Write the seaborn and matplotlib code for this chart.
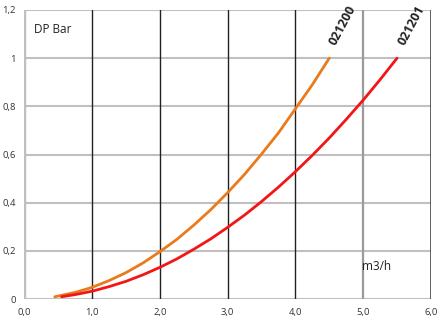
import matplotlib
matplotlib.use("Agg")
import matplotlib.pyplot as plt
import seaborn as sns
import pandas as pd

# Data
x_021200 = [0.45, 0.75, 1.0, 1.25, 1.5, 1.75, 2.0, 2.25, 2.5, 2.75, 3.0, 3.25, 3.5, 3.75, 4.0, 4.25, 4.5]
y_021200 = [0.010, 0.028, 0.049, 0.077, 0.110, 0.150, 0.197, 0.248, 0.307, 0.371, 0.442, 0.518, 0.602, 0.690, 0.790, 0.890, 1.000]
x_021201 = [0.55, 0.75, 1.0, 1.25, 1.5, 1.75, 2.0, 2.25, 2.5, 2.75, 3.0, 3.25, 3.5, 3.75, 4.0, 4.25, 4.5, 4.75, 5.0, 5.25, 5.5]
y_021201 = [0.010, 0.019, 0.033, 0.052, 0.074, 0.101, 0.132, 0.167, 0.207, 0.250, 0.298, 0.349, 0.405, 0.465, 0.529, 0.597, 0.669, 0.746, 0.826, 0.911, 1.000]
series_names = ["021200", "021201"]
x_ticks = [0, 1, 2, 3, 4, 5, 6]
x_tick_labels = ["0,0", "1,0", "2,0", "3,0", "4,0", "5,0", "6,0"]
y_ticks = [0, 0.2, 0.4, 0.6, 0.8, 1.0, 1.2]
y_tick_labels = ["0", "0,2", "0,4", "0,6", "0,8", "1", "1,2"]

df = pd.concat([
    pd.DataFrame({"x": x_021200, "y": y_021200, "s": series_names[0]}),
    pd.DataFrame({"x": x_021201, "y": y_021201, "s": series_names[1]}),
])

sns.set_style("white")
plt.rcParams['font.family'] = ['Open Sans', 'DejaVu Sans']

fig = plt.figure(figsize=(4.42, 3.21), dpi=100)
ax = fig.add_axes([0.055, 0.068, 0.920, 0.901])

# grid
for yv in y_ticks:
    ax.axhline(yv, color="#c0c0c0", lw=1.5, zorder=0)
for xv in [1, 2, 3, 4]:
    ax.axvline(xv, color="#222222", lw=1.0, zorder=0)
ax.axvline(5, color="#9a9a9a", lw=1.6, zorder=0)
ax.axvline(6, color="#444444", lw=1.2, zorder=0)
ax.axvline(0, color="#c0c0c0", lw=2.5, zorder=0)

sns.lineplot(data=df, x="x", y="y", hue="s", palette=["#EA7A1C", "#F21616"],
             lw=2.0, legend=False, ax=ax, sort=True, estimator=None)

ax.set_xlim(0, 6)
ax.set_ylim(0, 1.2)
ax.set_xticks(x_ticks)
ax.set_xticklabels(x_tick_labels)
ax.set_yticks(y_ticks)
ax.set_yticklabels(y_tick_labels)
ax.tick_params(axis="both", labelsize=6.8, colors="#333333", length=3, width=1, pad=2)
ax.tick_params(axis="x", color="#c0c0c0", pad=3)
ax.tick_params(axis="y", color="#c0c0c0", length=4)
ax.set_xlabel("")
ax.set_ylabel("")
for sp in ax.spines.values():
    sp.set_visible(False)

ax.text(0.14, 1.12, "DP Bar", fontsize=8.5, color="#222222", va="center", ha="left")
ax.text(4.98, 0.135, "m3/h", fontsize=8.5, color="#222222", va="center", ha="left")
ax.text(4.70, 1.135, series_names[0], fontsize=9, fontweight="bold", rotation=62,
        color="#222222", ha="center", va="center")
ax.text(5.71, 1.135, series_names[1], fontsize=9, fontweight="bold", rotation=62,
        color="#222222", ha="center", va="center")

fig.savefig("out.png", dpi=100)
